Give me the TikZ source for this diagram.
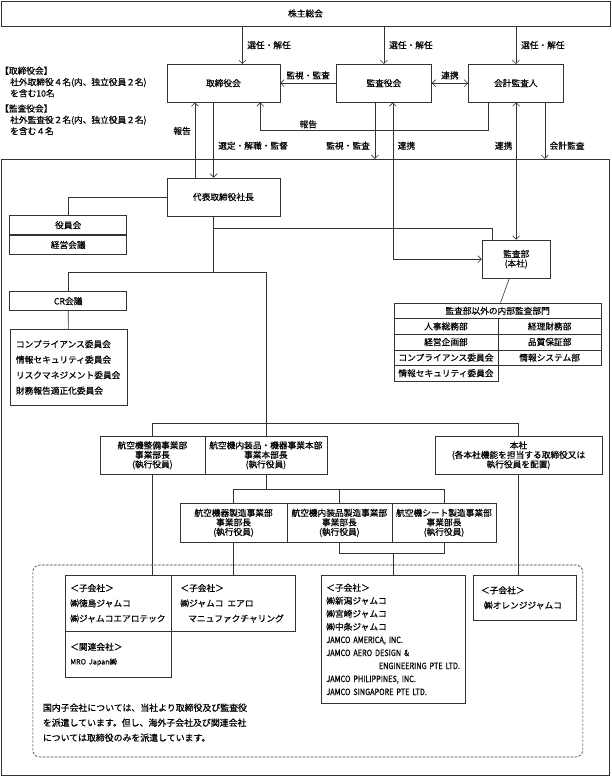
\documentclass[tikz,border=0pt]{standalone}
\usepackage{fontspec}
\setmainfont[FakeBold=0.5]{Noto Sans CJK JP}
\newfontfamily\narrowlatin[FakeStretch=0.84,FakeBold=0.5]{Noto Sans CJK JP}
\usetikzlibrary{arrows.meta}

\begin{document}
\begin{tikzpicture}[x=1pt,y=-1pt,
	>={Straight Barb[length=3.5pt,width=7pt]},
	ln/.style={draw=black!80,line width=0.6pt},
	box/.style={ln,inner sep=1pt,align=center,font=\fontsize{8.7}{9.5}\selectfont},
	lbl/.style={inner sep=0pt,font=\fontsize{8.7}{10}\selectfont},
	listbox/.style={box,align=left,anchor=north west},
	cell/.style={box,minimum height=15.6pt,anchor=north west}]
	\useasboundingbox (0,0) rectangle (611,776);
	
	% top boxes
	\node[box,minimum width=609pt,minimum height=25pt] (soukai) at (305.5,13.5) {株主総会};
	\node[box,minimum width=113pt,minimum height=37.7pt] (tori) at (223.4,83.2) {取締役会};
	\node[box,minimum width=95pt,minimum height=37.7pt] (kansayaku) at (383.9,83.2) {監査役会};
	\node[box,minimum width=94.7pt,minimum height=37.7pt] (kaikei) at (515.8,83.2) {会計監査人};
	
	% notes on the left
	\node[lbl,anchor=west,align=left,font=\fontsize{8.7}{11.3}\selectfont] (torinote) at (0,82) {【取締役会】\\\hspace*{10pt}社外取締役４名(内、独立役員２名)\\\hspace*{10pt}を含む10名};
	\node[lbl,anchor=west,align=left,font=\fontsize{8.7}{11.3}\selectfont] (kansanote) at (0,119.8) {【監査役会】\\\hspace*{10pt}社外監査役２名(内、独立役員２名)\\\hspace*{10pt}を含む４名};
	
	% company frame
	\node[ln,inner sep=0pt,minimum width=608.8pt,minimum height=615.6pt,anchor=north west] (frame) at (0.6,159) {};
	
	% president and councils
	\node[box,minimum width=113pt,minimum height=38pt] (shacho) at (223.4,197) {代表取締役社長};
	\node[box,minimum width=117pt,minimum height=19pt] (yakuinkai) at (68.2,225.2) {役員会};
	\node[box,minimum width=117pt,minimum height=19.3pt,anchor=north] (keiei) at (yakuinkai.south) {経営会議};
	\node[box,minimum width=117pt,minimum height=19pt] (cr) at (68.2,301.2) {CR会議};
	\node[listbox,inner xsep=6pt,text width=105pt,minimum height=75.7pt,font=\fontsize{8.7}{15.5}\selectfont] (iinkai) at (9.7,329.3) {コンプライアンス委員会\\情報セキュリティ委員会\\リスクマネジメント委員会\\財務報告適正化委員会};
	
	% audit department
	\node[box,minimum width=68.3pt,minimum height=38.3pt] (kansabu) at (516.2,259.2) {監査部\\(本社)};
	\node[cell,minimum width=207.4pt] (naibu) at (393.6,302.7) {監査部以外の内部監査部門};
	\node[cell,minimum width=104.1pt] (jinji) at (393.6,318.3) {人事総務部};
	\node[cell,minimum width=103.3pt] (keiri) at (497.7,318.3) {経理財務部};
	\node[cell,minimum width=104.1pt] (kikaku) at (393.6,333.9) {経営企画部};
	\node[cell,minimum width=103.3pt] (hinshitsu) at (497.7,333.9) {品質保証部};
	\node[cell,minimum width=104.1pt] (compli) at (393.6,349.5) {コンプライアンス委員会};
	\node[cell,minimum width=103.3pt] (system) at (497.7,349.5) {情報システム部};
	\node[cell,minimum width=104.1pt] (security) at (393.6,365.1) {情報セキュリティ委員会};
	
	% divisions
	\node[box,minimum width=105pt,minimum height=38pt,anchor=north west] (seibi) at (99.6,436) {航空機整備事業部\\事業部長\\(執行役員)};
	\node[box,minimum width=121.9pt,minimum height=38pt,anchor=north west] (naisou) at (204.6,436) {航空機内装品・機器事業本部\\事業本部長\\(執行役員)};
	\node[box,minimum width=166.6pt,minimum height=38pt,anchor=north west] (honsha) at (434.9,436) {本社\\(各本社機能を担当する取締役又は\\執行役員を配置)};
	\node[box,minimum width=106.7pt,minimum height=38.4pt,anchor=north west] (kiki) at (179.9,503.3) {航空機器製造事業部\\事業部長\\(執行役員)};
	\node[box,minimum width=104.9pt,minimum height=38.4pt,anchor=north west] (naisouseizo) at (286.6,503.3) {航空機内装品製造事業部\\事業部長\\(執行役員)};
	\node[box,minimum width=104.3pt,minimum height=38.4pt,anchor=north west] (seat) at (391.5,503.3) {航空機シート製造事業部\\事業部長\\(執行役員)};
	
	% group companies
	\draw[ln,dash pattern=on 2.5pt off 1.5pt,rounded corners=7pt] (32.8,565) rectangle (582.8,757);
	\node[listbox,inner xsep=5pt,text width=96.1pt,minimum height=56pt,font=\fontsize{8.7}{15.2}\selectfont] (subA) at (65,575) {＜子会社＞\\㈱徳島ジャムコ\\㈱ジャムコエアロテック};
	\node[listbox,inner xsep=5pt,text width=96.1pt,minimum height=46.3pt,font=\fontsize{8.7}{14.3}\selectfont] (subArel) at (65,631) {＜関連会社＞\\{\fontsize{7.2}{8}\selectfont MRO Japan㈱}};
	\node[listbox,inner xsep=9pt,text width=106.3pt,minimum height=56pt,font=\fontsize{8.7}{15.2}\selectfont] (subB) at (171.1,575) {＜子会社＞\\㈱ジャムコ\hspace{4pt}エアロ\\\hspace*{7.8pt}マニュファクチャリング};
	\node[listbox,inner xsep=5.3pt,text width=133.7pt,minimum height=128.3pt,font=\fontsize{8.7}{13}\selectfont] (subC) at (320.7,575) {＜子会社＞\\㈱新潟ジャムコ\\㈱宮崎ジャムコ\\㈱中条ジャムコ\\{\narrowlatin JAMCO AMERICA, INC.}\\{\narrowlatin JAMCO AERO DESIGN \&}\\\hspace*{\fill}{\narrowlatin ENGINEERING PTE LTD.}\\{\narrowlatin JAMCO PHILIPPINES, INC.}\\{\narrowlatin JAMCO SINGAPORE PTE LTD.}};
	\node[listbox,inner xsep=7.8pt,text width=87.9pt,minimum height=45pt,font=\fontsize{8.7}{15}\selectfont] (subD) at (472.9,575) {＜子会社＞\\\hspace*{3pt}㈱オレンジジャムコ};
	\node[lbl,anchor=west,align=left,font=\fontsize{8.9}{15}\selectfont] (note) at (42.7,722.7) {国内子会社については、当社より取締役及び監査役\\を派遣しています。但し、海外子会社及び関連会社\\については取締役のみを派遣しています。};
	
	% shareholders to boards
	\draw[ln,->] (soukai.south -| 242.4,0) -- node[lbl,right=4.6pt] (sennin1) {選任・解任} ([xshift=19pt]tori.north);
	\draw[ln,->] (soukai.south -| kansayaku) -- node[lbl,right=5pt] (sennin2) {選任・解任} (kansayaku);
	\draw[ln,->] (soukai.south -| kaikei) -- node[lbl,right=5pt] (sennin3) {選任・解任} (kaikei);
	
	% between boards
	\draw[ln,->] (kansayaku) -- node[lbl,above=3.5pt] (kanshi1) {監視・監査} (tori);
	\draw[ln,<->] (kansayaku) -- node[lbl,above=3.5pt] (renkei1) {連携} (kaikei);
	\draw[ln,->] (kaikei.south -| 488,0) -- (488,130) -| (tori.south -| 260.3,0);
	\node[lbl] (houkoku1) at (308.3,124.3) {報告};
	
	% board and president
	\draw[ln,->] (shacho.north -| 194.9,0) -- (tori.south -| 194.9,0);
	\node[lbl,anchor=east] (houkoku2) at (191,131) {報告};
	\draw[ln,->] (tori.south -| 213.6,0) -- (shacho.north -| 213.6,0);
	\node[lbl,anchor=west] (sentei) at (218,145.7) {選定・解職・監督};
	
	% audit lines
	\draw[ln,->] (kansayaku.south -| 374.9,0) -- (frame.north -| 374.9,0);
	\node[lbl,anchor=east] (kanshi2) at (370,145.7) {監視・監査};
	\draw[ln,<->] (kansayaku.south -| 392.8,0) |- (kansabu);
	\node[lbl,anchor=west] (renkei2) at (397.5,145.7) {連携};
	\draw[ln,<->] (kaikei.south -| kansabu) -- (kansabu);
	\node[lbl,anchor=east] (renkei3) at (512.5,145.7) {連携};
	\draw[ln,->] (kaikei.south -| 544.8,0) -- (frame.north -| 544.8,0);
	\node[lbl,anchor=west] (kansa) at (549.5,145.7) {会計監査};
	
	% president down
	\draw[ln] (shacho.west) -| (yakuinkai);
	\draw[ln] (shacho.south -| 213.6,0) -- (213.6,272.3);
	\draw[ln] (213.6,228.3) -| (kansabu.north -| 491.8,0);
	\draw[ln] (kansabu) -- (naibu);
	\draw[ln] (cr) |- (naisou |- 0,272.3) -- (naisou);
	\draw[ln] (cr) -- (iinkai);
	\draw[ln] (seibi) |- (honsha |- 0,423.3) -- (honsha);
	\draw[ln] (kiki) |- (seat |- 0,489.3) -- (seat);
	\draw[ln] (naisou) -- (naisou |- 0,489.3);
	\draw[ln] (naisouseizo) -- (naisouseizo |- 0,489.3);
	
	% divisions to group companies
	\draw[ln] (seibi) -- (seibi |- subA.north);
	\draw[ln] (kiki) -- (kiki |- subB.north);
	\draw[ln] (naisouseizo) |- (seat |- 0,553.3) -- (seat);
	\draw[ln] (subC |- 0,553.3) -- (subC);
	\draw[ln] (honsha) -- (honsha |- subD.north);
\end{tikzpicture}
\end{document}
